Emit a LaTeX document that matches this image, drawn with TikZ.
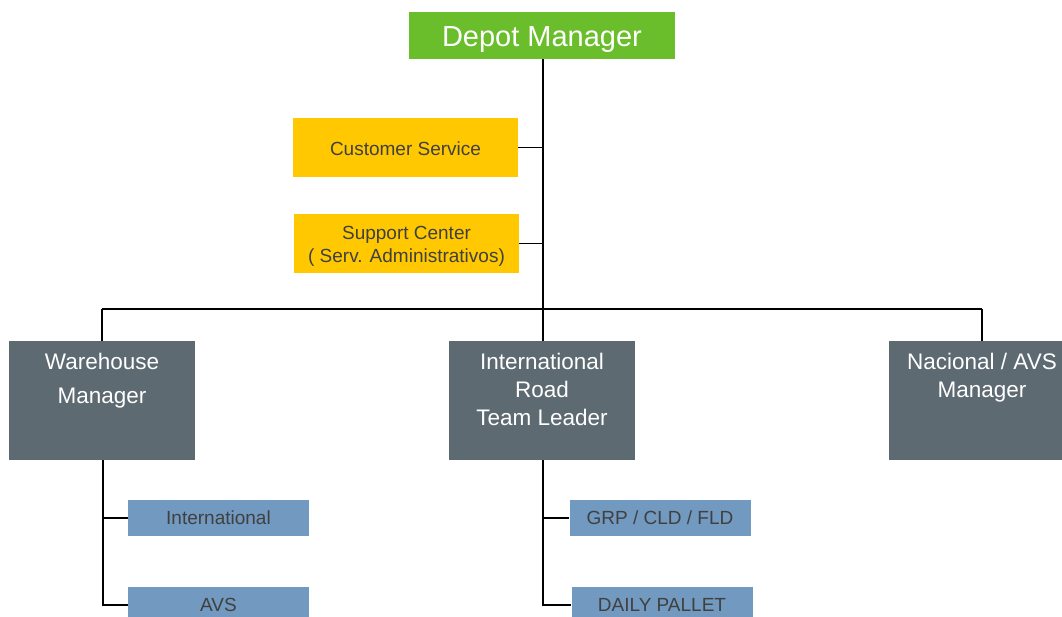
\documentclass[tikz,border=0pt]{standalone}
\usepackage{fontspec}
\setmainfont{Liberation Sans}
\definecolor{dmgreen}{HTML}{6ABE2B}
\definecolor{ylw}{HTML}{FFC800}
\definecolor{mgrgray}{HTML}{5E6A72}
\definecolor{subblue}{HTML}{7299C0}
\definecolor{txtgray}{HTML}{404040}
\tikzset{
  boxbase/.style={draw=none, inner sep=0pt, align=center},
  topbox/.style={boxbase, fill=dmgreen, minimum width=266pt, minimum height=47pt, text=white, font=\fontsize{29}{34}\selectfont},
  staffbox/.style={boxbase, fill=ylw, minimum width=225pt, minimum height=59pt, text=txtgray, font=\fontsize{19}{23}\selectfont},
  mgrbox/.style={boxbase, fill=mgrgray, minimum width=186pt, minimum height=119pt},
  mgrtext/.style={inner sep=0pt, anchor=north, align=center, text=white},
  subbox/.style={boxbase, fill=subblue, minimum width=181pt, minimum height=36pt, text=txtgray, font=\fontsize{19}{23}\selectfont},
  conn/.style={draw=black, line width=1.5pt}
}
\newcommand{\lowered}[2]{\raisebox{-#1}[\height][\depth]{#2}}
\begin{document}
\begin{tikzpicture}[x=1pt,y=-1pt]
\clip (0,0) rectangle (1062,616);
\fill[white] (0,0) rectangle (1062,616);
% top
\node[topbox] (dm) at (542,35.5) {\lowered{4pt}{Depot Manager}};
\node[staffbox] (cs) at (405.5,147.5) {\lowered{1pt}{Customer Service}};
\node[staffbox] (sc) at (406.5,243.5) {};
\node[inner sep=0pt, align=center, text=txtgray, font=\fontsize{19}{23}\selectfont] (sct) at ([yshift=-3pt]sc.center) {Support Center\\( Serv. Administrativos)};
% managers
\node[mgrbox] (wh) at (102,400.5) {};
\node[mgrtext, font=\fontsize{22.5}{34}\selectfont] (wht) at ([yshift=-12pt]wh.north) {Warehouse\\Manager};
\node[mgrbox] (ir) at (542,400.5) {};
\node[mgrtext, font=\fontsize{22.5}{28}\selectfont] (irt) at ([yshift=-12pt]ir.north) {International\\Road\\Team Leader};
\node[mgrbox] (na) at (982,400.5) {};
\node[mgrtext, font=\fontsize{22.5}{28}\selectfont] (nat) at ([yshift=-12pt]na.north) {Nacional / AVS\\Manager};
% sub boxes
\node[subbox] (intl) at (218.5,518) {International};
\node[subbox] (avs) at (218.5,605) {AVS};
\node[subbox] (grp) at (660,518) {GRP / CLD / FLD};
\node[subbox] (dp) at (662,605) {DAILY PALLET};
% connectors
\coordinate (bus) at (543,309);
\coordinate (busL) at (102,309);
\coordinate (busR) at (982,309);
\draw[conn] (dm.south -| bus) -- (bus);
\draw[conn] (cs.east) -- (cs.east -| bus);
\draw[conn] (sc.east) -- (sc.east -| bus);
\draw[conn] (busL) -- (busR);
\draw[conn] (busL) -- (wh.north);
\draw[conn] (bus) -- (ir.north -| bus);
\draw[conn] (busR) -- (na.north);
\coordinate (whx) at (103,460);
\draw[conn] (wh.south -| whx) -- (avs.west -| whx) -- (avs.west);
\draw[conn] (intl.west -| whx) -- (intl.west);
\coordinate (irx) at (543,460);
\draw[conn] (ir.south -| irx) -- (dp.west -| irx) -- (dp.west);
\draw[conn] (grp.west -| irx) -- (grp.west);
\end{tikzpicture}
\end{document}
